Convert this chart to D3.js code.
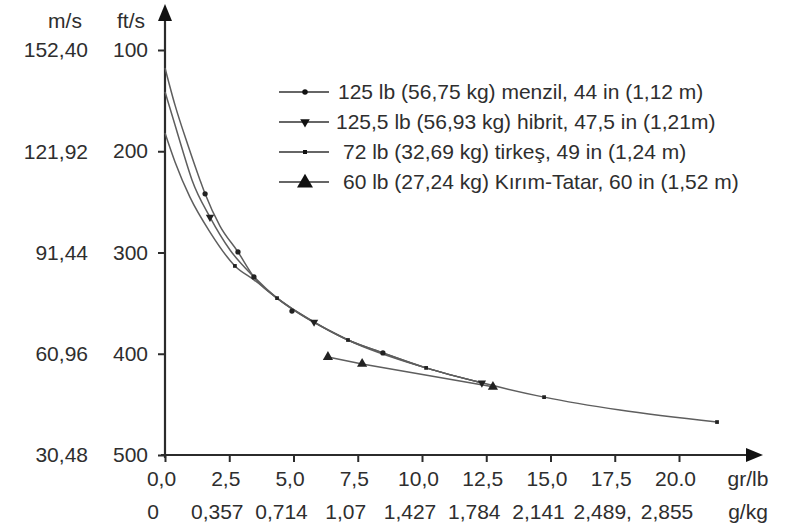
<!DOCTYPE html>
<html>
<head>
<meta charset="utf-8">
<script src="https://cdn.jsdelivr.net/npm/d3@7"></script>
<style>
  body { margin: 0; background: #fff; }
  text { font-family: "Liberation Sans", Arial, sans-serif; fill: #2e2e2e; }
</style>
</head>
<body>
<svg id="chart"></svg>
<script>
// tick labels
const msTicks = [152.40, 121.92, 91.44, 60.96, 30.48]
const msLabels = ["152,40", "121,92", "91,44", "60,96", "30,48"]
const ftsLabels = ["100", "200", "300", "400", "500"]
const grTicks = [0, 2.5, 5, 7.5, 10, 12.5, 15, 17.5, 20]
const grLabels = ["0,0", "2,5", "5,0", "7,5", "10,0", "12,5", "15,0", "17,5", "20.0"]
const gkgLabels = ["0", "0,357", "0,714", "1,07", "1,427", "1,784", "2,141", "2,489,", "2,855"]

// series: [gr/lb, m/s]
const seriesNames = [
    "125 lb (56,75 kg) menzil, 44 in (1,12 m)",
    "125,5 lb (56,93 kg) hibrit, 47,5 in (1,21m)",
    "72 lb (32,69 kg) tirkeş, 49 in (1,24 m)",
    "60 lb (27,24 kg) Kırım-Tatar, 60 in (1,52 m)"
]
const menzilLine = [[0, 147.0], [0.39, 135.8], [0.89, 123.8], [1.36, 113.3], [1.56, 109.1], [2.14, 99.4], [2.84, 91.6], [3.46, 84.1], [4.36, 77.7], [5.25, 72.9], [6.42, 67.8], [7.12, 65.1], [8.48, 61.2], [10.16, 56.7], [12.33, 52.2]]
const menzilMarks = [[1.56, 109.1], [2.84, 91.6], [3.46, 84.1], [4.94, 73.8], [8.48, 61.2]]
const hibritLine = [[0, 139.8], [0.39, 129.8], [0.74, 120.8], [1.05, 113.3], [1.75, 102.1], [2.53, 92.2], [3.46, 84.1], [4.36, 77.7], [5.80, 70.5], [7.12, 65.1], [8.48, 61.2], [10.16, 56.7], [12.33, 52.2]]
const hibritMarks = [[1.75, 102.1], [5.80, 70.5], [12.33, 52.2]]
const tirkesLine = [[0, 127.4], [0.39, 118.7], [0.97, 108.1], [1.75, 97.6], [2.72, 87.4], [3.46, 83.2], [4.36, 77.7], [7.12, 65.1], [10.16, 56.7], [12.33, 52.2], [14.75, 47.9], [17.70, 44.0], [21.48, 40.4]]
const tirkesMarks = [[2.72, 87.4], [4.36, 77.7], [7.12, 65.1], [10.16, 56.7], [14.75, 47.9], [21.48, 40.4]]
const tatarLine = [[6.34, 60.0], [7.67, 57.9], [12.76, 51.0]]

const width = 792
const height = 526
const fontSize = 21

const svg = d3.select("#chart").attr("width", width).attr("height", height)

const x = d3.scaleLinear().domain([0, 20]).range([165, 679])
const y = d3.scaleLinear().domain([30.48, 152.40]).range([455, 50])

const axisColor = "#2b2b2b"
const lineColor = "#5e5e5e"

// y axis (ft/s labels on ticks)
const gy = svg.append("g")
    .attr("transform", `translate(${x(0)},0)`)
    .call(d3.axisLeft(y).tickValues(msTicks).tickFormat((d, i) => ftsLabels[i]).tickSize(7).tickPadding(10))
gy.select(".domain").remove()
gy.selectAll("line").attr("stroke", axisColor).attr("stroke-width", 2)
gy.selectAll("text").attr("font-size", fontSize).attr("fill", "#2e2e2e").attr("font-family", null)

// m/s column
svg.append("g").selectAll("text")
    .data(msTicks)
    .join("text")
    .attr("x", 88)
    .attr("y", d => y(d))
    .attr("dy", "0.35em")
    .attr("text-anchor", "end")
    .attr("font-size", fontSize)
    .text((d, i) => msLabels[i])

// x axis (gr/lb)
const gx = svg.append("g")
    .attr("transform", `translate(0,${y(30.48)})`)
    .call(d3.axisBottom(x).tickValues(grTicks).tickFormat((d, i) => grLabels[i]).tickSize(7).tickPadding(9))
gx.select(".domain").remove()
gx.selectAll("line").attr("stroke", axisColor).attr("stroke-width", 2)
gx.selectAll("text").attr("font-size", fontSize).attr("fill", "#2e2e2e").attr("font-family", null).attr("dx", -4)

// g/kg row
svg.append("g").selectAll("text")
    .data(grTicks)
    .join("text")
    .attr("x", d => x(d) - 12)
    .attr("y", 519)
    .attr("text-anchor", "middle")
    .attr("font-size", fontSize)
    .text((d, i) => gkgLabels[i])

// axis lines + arrows
svg.append("line")
    .attr("x1", x(0)).attr("y1", y(30.48) + 3)
    .attr("x2", x(0)).attr("y2", 14)
    .attr("stroke", axisColor).attr("stroke-width", 2.2)
svg.append("line")
    .attr("x1", x(0) - 4).attr("y1", y(30.48))
    .attr("x2", 752).attr("y2", y(30.48))
    .attr("stroke", axisColor).attr("stroke-width", 2.2)
svg.append("path")
    .attr("d", `M${x(0)},4 L${x(0) - 7},21 L${x(0) + 7},21 Z`)
    .attr("fill", "#111")
svg.append("path")
    .attr("d", `M763,${y(30.48)} L746,${y(30.48) - 7} L746,${y(30.48) + 7} Z`)
    .attr("fill", "#111")

// unit labels
svg.append("text").attr("x", 65).attr("y", 28).attr("text-anchor", "middle").attr("font-size", fontSize).text("m/s")
svg.append("text").attr("x", 131).attr("y", 28).attr("text-anchor", "middle").attr("font-size", fontSize).text("ft/s")
svg.append("text").attr("x", 748).attr("y", 486).attr("text-anchor", "middle").attr("font-size", fontSize).text("gr/lb")
svg.append("text").attr("x", 748).attr("y", 519).attr("text-anchor", "middle").attr("font-size", fontSize).text("g/kg")

// curves
const line = d3.line().x(d => x(d[0])).y(d => y(d[1])).curve(d3.curveMonotoneX)
const lineStraight = d3.line().x(d => x(d[0])).y(d => y(d[1]))

const curves = [menzilLine, hibritLine, tirkesLine]
svg.append("g").selectAll("path")
    .data(curves)
    .join("path")
    .attr("d", line)
    .attr("fill", "none")
    .attr("stroke", lineColor)
    .attr("stroke-width", 1.5)

svg.append("path")
    .attr("d", lineStraight(tatarLine))
    .attr("fill", "none")
    .attr("stroke", lineColor)
    .attr("stroke-width", 1.5)

// markers
const symDot = d3.symbol(d3.symbolCircle, 22)
const symTri = d3.symbol(d3.symbolTriangle, 30)
const symSq = d3.symbol(d3.symbolSquare, 14)
const symTriBig = d3.symbol(d3.symbolTriangle, 45)

function marks(data, sym, rot) {
    svg.append("g").selectAll("path")
        .data(data)
        .join("path")
        .attr("d", sym)
        .attr("transform", d => `translate(${x(d[0])},${y(d[1])}) rotate(${rot})`)
        .attr("fill", "#222")
}
marks(menzilMarks, symDot, 0)
marks(hibritMarks, symTri, 180)
marks(tirkesMarks, symSq, 0)
marks(tatarLine, symTriBig, 0)

// legend
const legendSyms = [
    [d3.symbol(d3.symbolCircle, 24), 0],
    [d3.symbol(d3.symbolTriangle, 40), 180],
    [d3.symbol(d3.symbolSquare, 16), 0],
    [d3.symbol(d3.symbolTriangle, 110), 0]
]
const legendX = [338, 336, 343, 343]
const lg = svg.append("g")
seriesNames.forEach((name, i) => {
    const ly = 92 + i * 30
    lg.append("line")
        .attr("x1", 279).attr("x2", 329)
        .attr("y1", ly).attr("y2", ly)
        .attr("stroke", "#333").attr("stroke-width", 1.5)
    lg.append("path")
        .attr("d", legendSyms[i][0])
        .attr("transform", `translate(305,${ly + (i == 3 ? 1 : 0)}) rotate(${legendSyms[i][1]})`)
        .attr("fill", "#111")
    lg.append("text")
        .attr("x", legendX[i])
        .attr("y", ly)
        .attr("dy", "0.35em")
        .attr("font-size", fontSize)
        .text(name)
})
</script>
</body>
</html>
